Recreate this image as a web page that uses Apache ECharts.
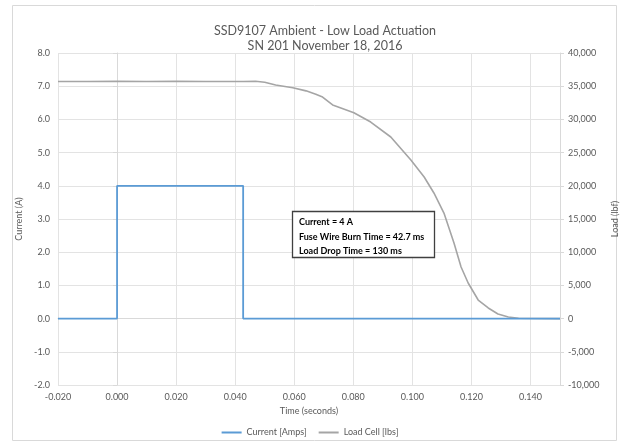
<!DOCTYPE html>
<html>
<head>
<meta charset="utf-8">
<script src="https://cdn.jsdelivr.net/npm/echarts@6/dist/echarts.min.js"></script>
<style>html,body{margin:0;padding:0;background:#fff}#c{width:620px;height:444px}</style>
</head>
<body>
<div id="c"></div>
<script>
const titleLines = ['SSD9107 Ambient - Low Load Actuation', 'SN 201 November 18, 2016'];
const seriesNames = ['Current [Amps]', 'Load Cell [lbs]'];
const currentTime = [-0.020, 0.000, 0.000, 0.0427, 0.0427, 0.150];
const currentValues = [0.0, 0.0, 4.0, 4.0, 0.0, 0.0];
const loadTime = [-0.020, -0.010, 0.000, 0.010, 0.020, 0.030, 0.040, 0.0428, 0.0432, 0.0469, 0.0500, 0.0537, 0.0595, 0.0640, 0.0673, 0.0696, 0.0730, 0.0758, 0.0802, 0.0859, 0.0927, 0.0995, 0.1040, 0.1073, 0.1107, 0.1141, 0.1165, 0.1189, 0.1223, 0.1257, 0.1290, 0.1325, 0.1360, 0.1500];
const loadValues = [35700, 35700, 35750, 35700, 35750, 35700, 35700, 35700, 35500, 35750, 35600, 35180, 34770, 34300, 33800, 33370, 32170, 31720, 31000, 29600, 27350, 23890, 21330, 18920, 15900, 11390, 7770, 5360, 2800, 1600, 690, 240, 50, 0];
const annotationLines = ['Current = 4 A', 'Fuse Wire Burn Time = 42.7 ms', 'Load Drop Time = 130 ms'];
const axisNames = ['Time (seconds)', 'Current (A)', 'Load (lbf)'];

const FONT = 'Lato, Liberation Sans, Arial, sans-serif';
const TXT = '#595959';
const GRID = '#e3e3e3';

const chart = echarts.init(document.getElementById('c'), null, {renderer: 'canvas'});
chart.setOption({
  animation: false,
  textStyle: {fontFamily: FONT},
  title: {
    text: titleLines.join('\n'),
    left: 320, top: 18, textAlign: 'center',
    textStyle: {fontSize: 12.5, fontWeight: 'normal', color: TXT, lineHeight: 15.5, fontFamily: FONT}
  },
  legend: {
    top: 423, left: 'center',
    itemWidth: 20, itemHeight: 2, itemGap: 12,
    icon: 'rect',
    textStyle: {fontSize: 9, color: TXT, fontFamily: FONT},
    data: seriesNames
  },
  grid: {left: 58, right: 60, top: 53, bottom: 59, containLabel: false, outerBoundsMode: 'none'},
  xAxis: {
    type: 'value', min: -0.02, max: 0.15, interval: 0.02,
    name: axisNames[0], nameLocation: 'middle', nameGap: 22,
    nameTextStyle: {fontSize: 9, color: TXT},
    axisLine: {show: true, lineStyle: {color: '#d9d9d9'}},
    axisTick: {show: false},
    axisLabel: {fontSize: 9, color: TXT, margin: 8, showMaxLabel: false, formatter: v => v.toFixed(3)},
    splitLine: {show: true, lineStyle: {color: GRID}}
  },
  yAxis: [{
    type: 'value', min: -2, max: 8, interval: 1,
    name: axisNames[1], nameLocation: 'middle', nameGap: 30, nameRotate: 90,
    nameTextStyle: {fontSize: 9, color: TXT},
    axisLine: {show: true, lineStyle: {color: '#d9d9d9'}},
    axisTick: {show: true, length: 4, inside: false, lineStyle: {color: '#d9d9d9'}},
    axisLabel: {fontSize: 9, color: TXT, margin: 8, formatter: v => v.toFixed(1)},
    splitLine: {show: true, lineStyle: {color: GRID}}
  }, {
    type: 'value', min: -10000, max: 40000, interval: 5000,
    name: axisNames[2], nameLocation: 'middle', nameGap: 43, nameRotate: 90,
    nameTextStyle: {fontSize: 9, color: TXT},
    axisLine: {show: true, lineStyle: {color: '#d9d9d9'}},
    axisTick: {show: true, length: 4, lineStyle: {color: '#d9d9d9'}},
    axisLabel: {fontSize: 9, color: TXT, margin: 8, formatter: v => v.toLocaleString('en-US')},
    splitLine: {show: false}
  }],
  series: [{
    name: seriesNames[0], type: 'line', yAxisIndex: 0, showSymbol: false, symbol: 'none',
    lineStyle: {color: '#5b9bd5', width: 1.8}, itemStyle: {color: '#5b9bd5'},
    data: currentTime.map((t, i) => [t, currentValues[i]]), z: 3
  }, {
    name: seriesNames[1], type: 'line', yAxisIndex: 1, showSymbol: false, symbol: 'none',
    lineStyle: {color: '#a5a5a5', width: 1.6}, itemStyle: {color: '#a5a5a5'},
    data: loadTime.map((t, i) => [t, loadValues[i]]), z: 2
  }],
  graphic: [{
    type: 'rect', shape: {x: 12.5, y: 5.5, width: 604, height: 435}, silent: true,
    style: {fill: null, stroke: '#d9d9d9', lineWidth: 1}, z: -10
  }, {
    type: 'rect', shape: {x: 292.5, y: 211.5, width: 142, height: 46},
    style: {fill: '#fff', stroke: '#404040', lineWidth: 1.3}, z: 100
  }, {
    type: 'text', left: 299, top: 215, z: 101,
    style: {text: annotationLines.join('\n'), fontSize: 9, fontWeight: 'bold', lineHeight: 14.5, fill: '#000', fontFamily: FONT}
  }]
});
</script>
</body>
</html>
